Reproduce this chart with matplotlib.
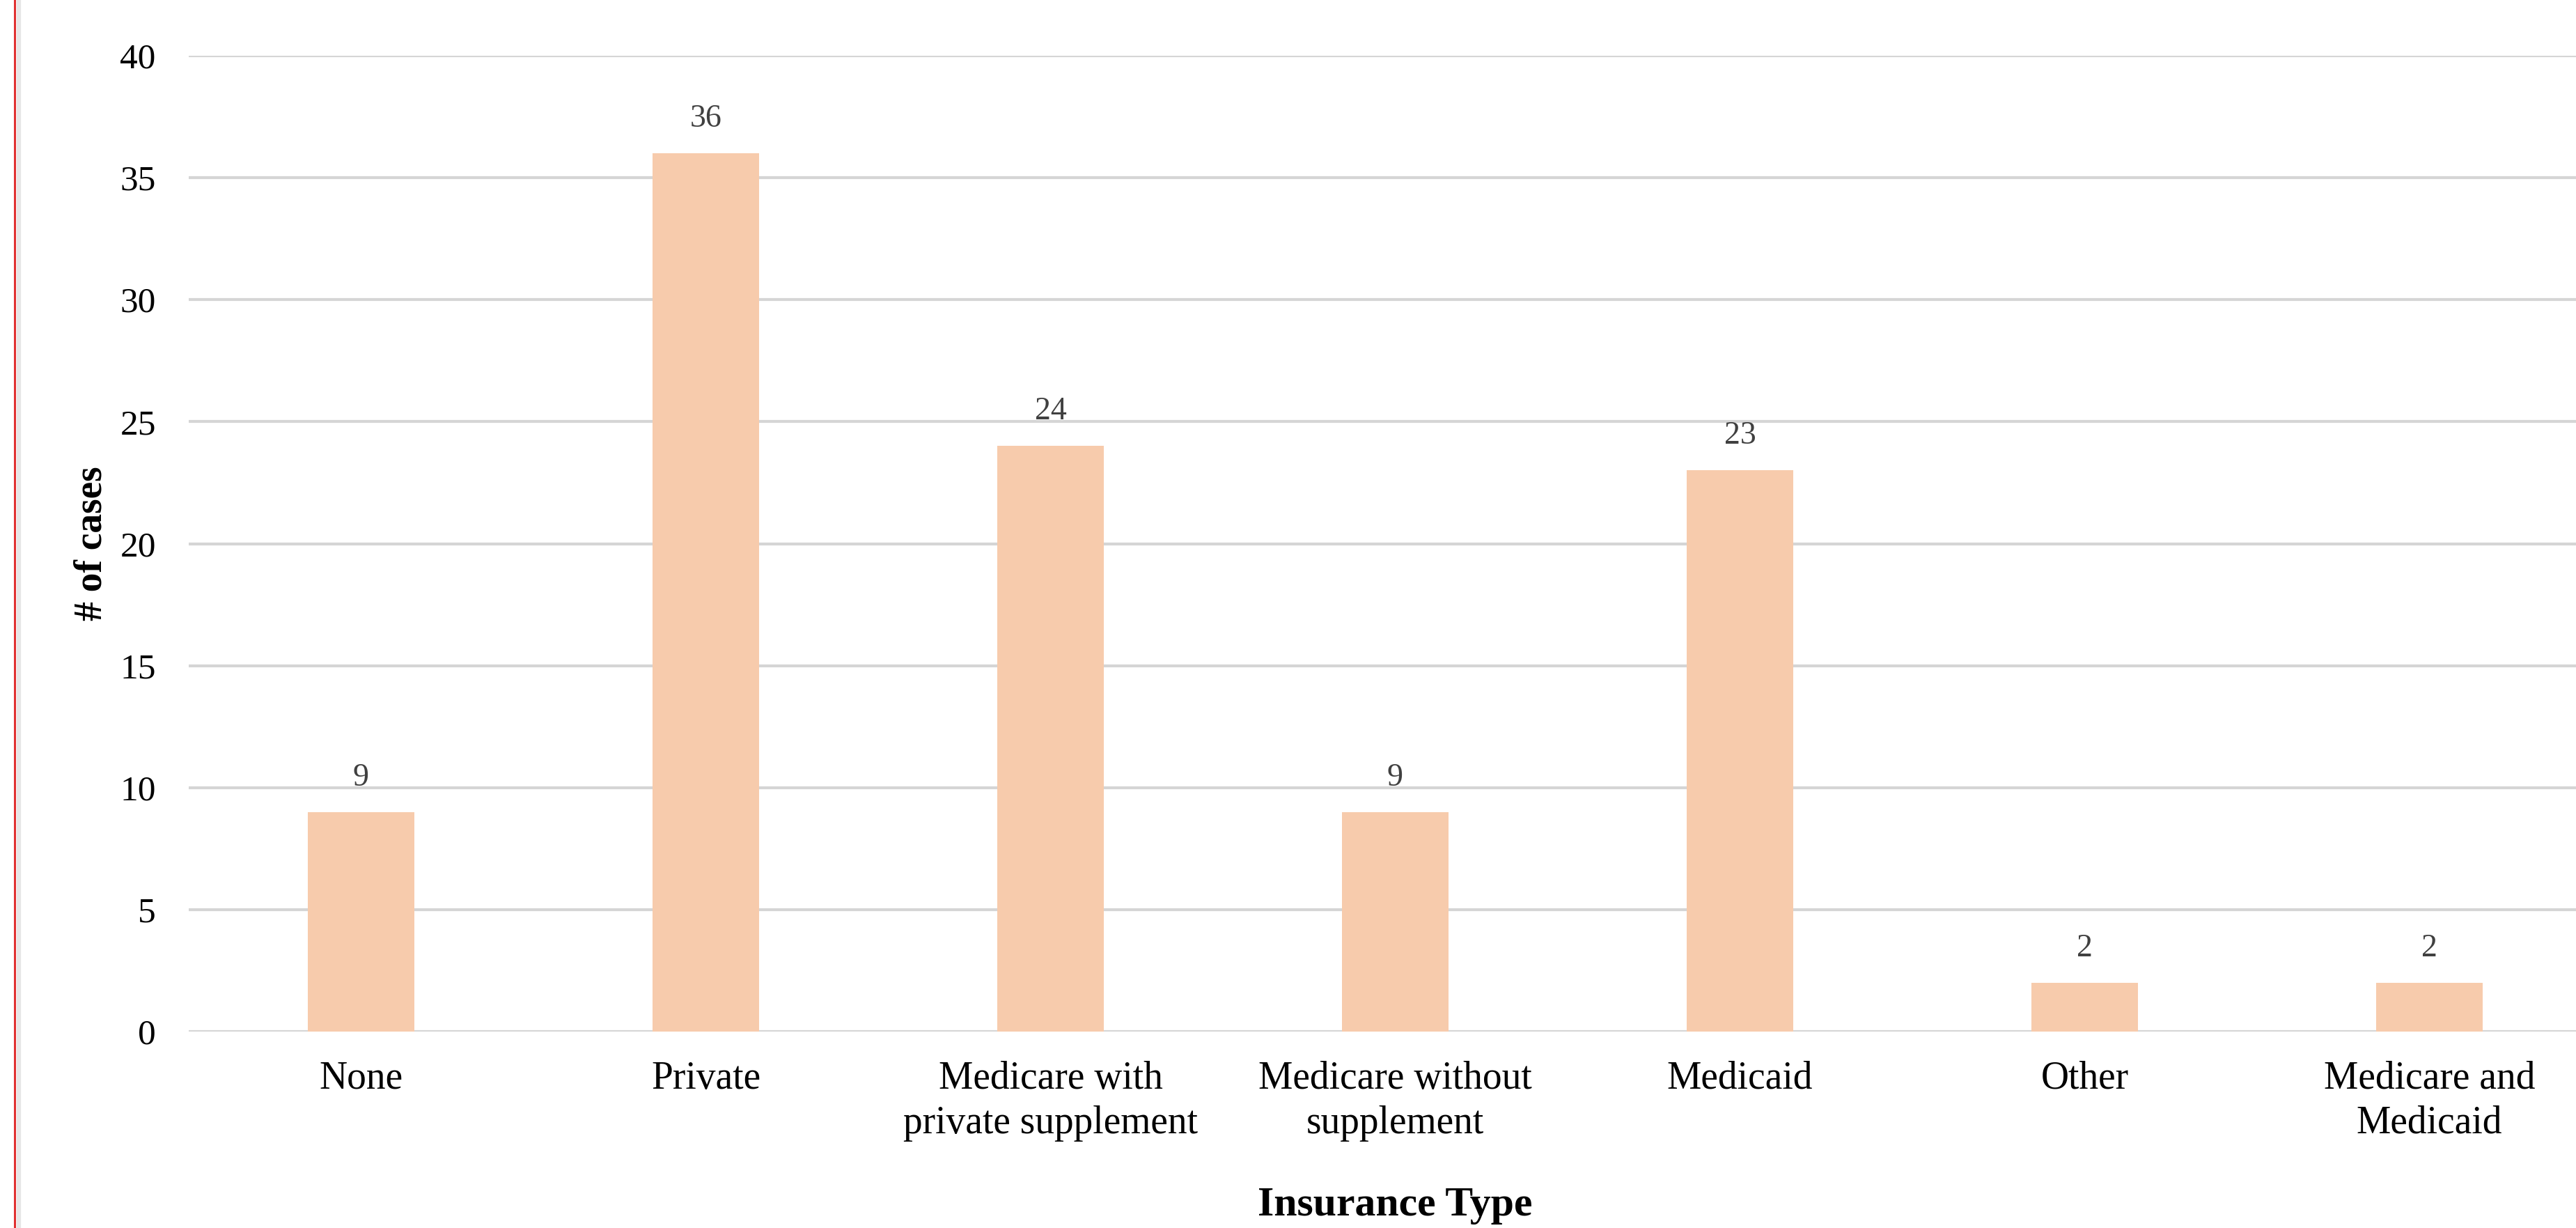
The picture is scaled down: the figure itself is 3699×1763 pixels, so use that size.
import matplotlib
matplotlib.use("Agg")
import matplotlib.pyplot as plt
from matplotlib.lines import Line2D

categories = ["None", "Private", "Medicare with\nprivate supplement",
              "Medicare without\nsupplement", "Medicaid", "Other",
              "Medicare and\nMedicaid"]
values = [9, 36, 24, 9, 23, 2, 2]
yticks = [0, 5, 10, 15, 20, 25, 30, 35, 40]

plt.rcParams['font.family'] = ['Liberation Serif', 'DejaVu Serif']

W, H, DPI = 3699, 1763, 100
fig = plt.figure(figsize=(W / DPI, H / DPI), dpi=DPI)
fig.patch.set_facecolor('white')

left = 271 / W
right = 3736 / W
bottom = 1 - 1481 / H
top = 1 - 80 / H
ax = fig.add_axes([left, bottom, right - left, top - bottom])

x = list(range(len(categories)))
ax.bar(x, values, width=0.31, color='#F7CBAC', zorder=3)
for xi, v in zip(x, values):
    ax.annotate(str(v), (xi, v), xytext=(0, 28), textcoords='offset pixels',
                ha='center', va='bottom', fontsize=33, color='#404040', zorder=4)

ax.set_xlim(-0.5, 6.5)
ax.set_ylim(0, 40)
ax.set_yticks(yticks)
ax.set_yticklabels([str(t) for t in yticks], fontsize=37)
ax.set_xticks(x)
ax.set_xticklabels(categories, fontsize=40, linespacing=1.3)
ax.tick_params(axis='both', length=0, colors='black')
ax.tick_params(axis='y', pad=34)
ax.tick_params(axis='x', pad=30)
ax.grid(axis='y', color='#D5D5D5', linewidth=3, zorder=0)
ax.set_axisbelow(True)
for s in ax.spines.values():
    s.set_visible(False)

fig.text(132 / W, 1 - 780 / H, '# of cases', fontsize=40, fontweight='bold',
         rotation=90, ha='center', va='center')
fig.text((271 + 3736) / 2 / W, 1 - 1731 / H, 'Insurance Type', fontsize=43,
         fontweight='bold', ha='center', va='center')

# page border lines on the left
fig.add_artist(Line2D([20.5 / W, 20.5 / W], [0, 1], color='#E03030', linewidth=2.2))
fig.add_artist(Line2D([26.5 / W, 26.5 / W], [0, 1], color='#E6E6E6', linewidth=4.5))

fig.savefig('out.png', dpi=DPI, facecolor='white')
